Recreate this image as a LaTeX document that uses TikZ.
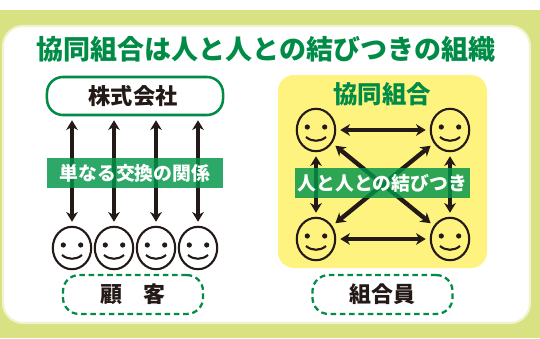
\documentclass[tikz,border=0pt]{standalone}
\usepackage{fontspec}
\newfontfamily\cjk{Noto Sans CJK JP}
\usetikzlibrary{shapes,arrows.meta}

\definecolor{bandgreen}{RGB}{217,226,130}
\definecolor{softgreen}{RGB}{240,243,205}
\definecolor{titlegreen}{RGB}{0,140,70}
\definecolor{stripgreen}{RGB}{0,149,73}
\definecolor{panelyellow}{RGB}{255,243,128}
\definecolor{inkblack}{RGB}{35,25,22}

\tikzset{
  face/.style={shape=ellipse,draw=inkblack,line width=1.5pt,inner sep=0pt,minimum width=0.96cm,minimum height=1.06cm,
    path picture={
      \fill[inkblack] ([shift={(-8.7,-3)}]path picture bounding box.center) circle[radius=2.6];
      \fill[inkblack] ([shift={(8.7,-3)}]path picture bounding box.center) circle[radius=2.6];
      \draw[inkblack,line width=1.5pt] ([shift={(-10,7)}]path picture bounding box.center) to[bend right=40] ([shift={(10,7)}]path picture bounding box.center);
    }},
  link/.style={{Stealth[length=7pt,width=8.5pt,line width=0pt]}-{Stealth[length=7pt,width=8.5pt,line width=0pt]},draw=inkblack,line width=3.1pt,shorten >=0.1cm,shorten <=0.1cm},
  strip/.style={fill=stripgreen,fill opacity=0.82,text opacity=1,text=white,font=\cjk\bfseries\fontsize{13.4pt}{14pt}\selectfont,inner sep=0pt,minimum height=0.75cm},
  dashbox/.style={draw=titlegreen,line width=1.6pt,dash pattern=on 4pt off 2.6pt,rounded corners=0.4cm,minimum height=0.97cm,minimum width=3.5cm,inner sep=0pt,text=inkblack,font=\cjk\bfseries\fontsize{15.6pt}{16pt}\selectfont},
}

\begin{document}
\begin{tikzpicture}[x=0.025cm,y=-0.025cm]
\useasboundingbox (0,0) rectangle (540,338);
\fill[bandgreen] (0,10) rectangle (540,338);
\fill[white,draw=softgreen,line width=1.5pt,rounded corners=0.5cm] (3,26) rectangle (530,323);

\node[text=titlegreen,font=\cjk\bfseries\fontsize{19.2pt}{20pt}\selectfont] (title) at (266,49) {協同組合は人と人との結びつきの組織};

% left side
\node[draw=titlegreen,line width=1.8pt,rounded corners=0.4cm,minimum width=4.4cm,minimum height=0.95cm,inner sep=0pt] (company) at (135,96) {};
\node[text=inkblack,font=\cjk\bfseries\fontsize{15.8pt}{16pt}\selectfont] (companyname) at (133,96) {株式会社};
\node[face] (c1) at (72,248) {};
\node[face] (c2) at (114,248) {};
\node[face] (c3) at (156,248) {};
\node[face] (c4) at (198,248) {};

\draw [link] (c1 |- company.south) -- (c1);
\draw [link] (c2 |- company.south) -- (c2);
\draw [link] (c3 |- company.south) -- (c3);
\draw [link] (c4 |- company.south) -- (c4);

\node[strip,minimum width=4.375cm] (exchange) at (135,173) {単なる交換の関係};
\node[dashbox] (customer) at (133,294.5) {顧\hspace{1em}客};

% right side
\fill[panelyellow,rounded corners=0.4cm] (278,75) rectangle (487,268);
\node[text=titlegreen,font=\cjk\bfseries\fontsize{17.4pt}{18pt}\selectfont] (coop) at (382,94) {協同組合};
\node[face] (m1) at (316,130) {};
\node[face] (m2) at (450,130) {};
\node[face] (m3) at (316,239) {};
\node[face] (m4) at (450,239) {};

\draw [link] (m1) -- (m2);
\draw [link] (m2) -- (m4);
\draw [link] (m4) -- (m3);
\draw [link] (m3) -- (m1);
\draw [link] (m1) -- (m4);
\draw [link] (m2) -- (m3);

\node[strip,minimum width=4.375cm] (bond) at (382.5,183) {人と人との結びつき};
\node[dashbox] (member) at (382.5,294.5) {組合員};
\end{tikzpicture}
\end{document}
